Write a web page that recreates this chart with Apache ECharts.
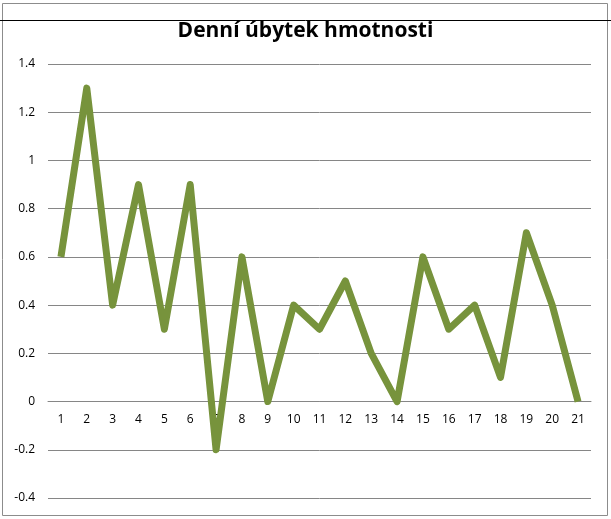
<!DOCTYPE html>
<html><head><meta charset="utf-8">
<script src="https://cdn.jsdelivr.net/npm/echarts@6/dist/echarts.min.js"></script>
<style>html,body{margin:0;padding:0;background:#fff}#c{width:611px;height:519px}</style>
</head><body><div id="c"></div>
<script>
const categories = ['1','2','3','4','5','6','7','8','9','10','11','12','13','14','15','16','17','18','19','20','21'];
const values = [0.6,1.3,0.4,0.9,0.3,0.9,-0.2,0.6,0,0.4,0.3,0.5,0.2,0,0.6,0.3,0.4,0.1,0.7,0.4,0];
const titleText = 'Denní úbytek hmotnosti';
const yMin = -0.4, yMax = 1.4;
const gridTop = 64, gridBottom = 21, H = 519;
const plotH = H - gridTop - gridBottom;
const zeroOffset = -plotH * (0 - yMin) / (yMax - yMin);
const chart = echarts.init(document.getElementById('c'));
chart.setOption({
  animation: false,
  backgroundColor: '#fff',
  title: {text: titleText, left: 'center', top: 16,
    textStyle: {fontFamily: 'Open Sans', fontWeight: 'bold', fontSize: 21, color: '#000'}},
  graphic: [
    {type: 'rect', shape: {x: 2.5, y: 3.5, width: 605, height: 512}, style: {fill: 'none', stroke: '#8c8c8c', lineWidth: 1}, z: -1},
    {type: 'line', shape: {x1: 0, y1: 20.5, x2: 611, y2: 20.5}, style: {stroke: '#000', lineWidth: 1}, z: 10}
  ],
  grid: {left: 48, right: 20, top: gridTop, bottom: gridBottom, outerBoundsMode: 'none'},
  xAxis: {type: 'category', data: categories, boundaryGap: true, offset: zeroOffset,
    axisLine: {onZero: false, lineStyle: {color: '#868686', width: 1}},
    axisTick: {show: false},
    axisLabel: {margin: 12, fontFamily: 'Open Sans', fontSize: 12, color: '#000'}},
  yAxis: {type: 'value', min: yMin, max: yMax, interval: 0.2,
    axisLine: {show: false}, axisTick: {show: false},
    axisLabel: {margin: 13, fontFamily: 'Open Sans', fontSize: 12, color: '#000',
      formatter: v => String(Math.round(v*10)/10)},
    splitLine: {lineStyle: {color: '#868686', width: 1}}},
  series: [{type: 'line', data: values, symbol: 'none',
    lineStyle: {color: '#77933C', width: 7, join: 'round'}}]
});
</script></body></html>
